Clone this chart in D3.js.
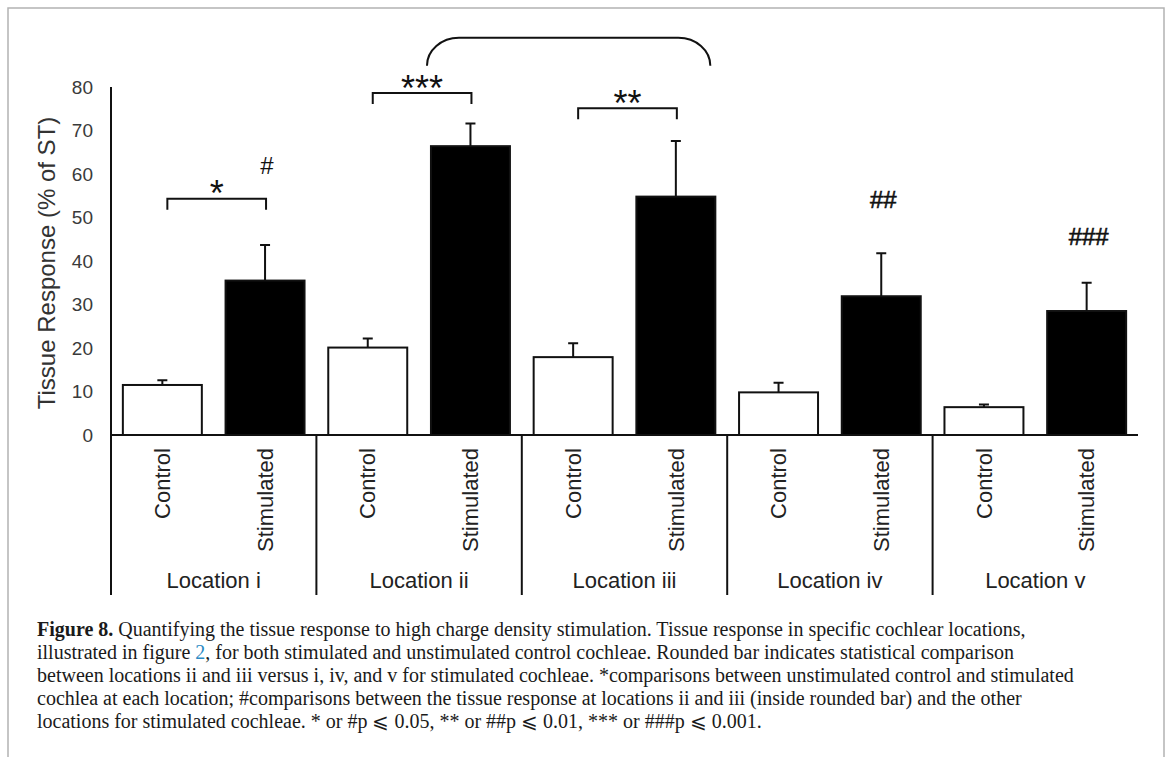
<!DOCTYPE html>
<html>
<head>
<meta charset="utf-8">
<script src="https://cdn.jsdelivr.net/npm/d3@7"></script>
<style>
  html, body { margin: 0; padding: 0; background: #fff; }
  svg { display: block; }
</style>
</head>
<body>
<svg id="fig" width="1169" height="757"></svg>
<script>
// Tissue response (% of ST) per cochlear location
const locations = ["Location i", "Location ii", "Location iii", "Location iv", "Location v"];
const conditions = ["Control", "Stimulated"];
const controlMean = [11.5, 20.1, 17.9, 9.8, 6.4];
const controlErr  = [1.1, 2.1, 3.2, 2.2, 0.6];
const stimMean    = [35.5, 66.4, 54.8, 31.9, 28.5];
const stimErr     = [8.2, 5.2, 12.8, 9.9, 6.5];
const yTicks = [0, 10, 20, 30, 40, 50, 60, 70, 80];

// Control vs stimulated significance at each location
const pairLabels = ["*", "***", "**", "", ""];
const pairLevels = [54.3, 78.6, 75.1, null, null];
// Locations ii/iii vs the others (stimulated)
const hashLabels = ["#", "", "", "##", "###"];
const hashLevels = [60.1, null, null, 52.2, 43.7];
const roundedSpan = ["Location ii", "Location iii"];
const roundedLevel = 91.3;

const captionLines = [
  [{t: "Figure 8.", b: true}, {t: " Quantifying the tissue response to high charge density stimulation. Tissue response in specific cochlear locations,"}],
  [{t: "illustrated in figure "}, {t: "2", link: true}, {t: ", for both stimulated and unstimulated control cochleae. Rounded bar indicates statistical comparison"}],
  [{t: "between locations ii and iii versus i, iv, and v for stimulated cochleae. *comparisons between unstimulated control and stimulated"}],
  [{t: "cochlea at each location; #comparisons between the tissue response at locations ii and iii (inside rounded bar) and the other"}],
  [{t: "locations for stimulated cochleae. * or #p \u2A7D 0.05, ** or ##p \u2A7D 0.01, *** or ###p \u2A7D 0.001."}]
];

const svg = d3.select("#fig");
const ink = "#111";
const sans = "Liberation Sans, Arial, sans-serif";

// page frame
svg.append("path")
  .attr("d", "M8,757 V8 H1164 V757")
  .attr("fill", "none").attr("stroke", "#b3b3b3").attr("stroke-width", 1.5);

const plot = {left: 111, right: 1138, top: 87, base: 435, labelBottom: 595};

const y = d3.scaleLinear().domain([0, 80]).range([plot.base, plot.top]);
const xGroup = d3.scaleBand().domain(locations).range([plot.left, plot.right]);
const xCond = d3.scaleBand().domain(conditions).range([0, xGroup.bandwidth()])
  .paddingInner(0.231).paddingOuter(0.1155);

const rows = locations.map((loc, i) => [
  {loc, cond: "Control", mean: controlMean[i], err: controlErr[i], fill: "#fff"},
  {loc, cond: "Stimulated", mean: stimMean[i], err: stimErr[i], fill: "#000"}
]).flat();
const cx = d => xGroup(d.loc) + xCond(d.cond) + xCond.bandwidth() / 2;

// y axis with labels only
const yAxis = d3.axisLeft(y).tickValues(yTicks).tickSize(0).tickPadding(18);
const gy = svg.append("g").attr("transform", `translate(${plot.left},0)`).call(yAxis);
gy.select(".domain").remove();
gy.selectAll("text").attr("font-family", sans).attr("font-size", 19).attr("fill", "#3a3a3a");

svg.append("text")
  .attr("transform", `translate(55,${(y(0) + y(80)) / 2 + 2}) rotate(-90)`)
  .attr("text-anchor", "middle")
  .attr("font-family", sans).attr("font-size", 24).attr("fill", "#333")
  .text("Tissue Response (% of ST)");

// error bars
const capW = 10;
const eb = svg.append("g").attr("stroke", ink).attr("stroke-width", 2).attr("fill", "none");
eb.selectAll("path").data(rows).join("path")
  .attr("d", d => `M${cx(d)},${y(d.mean)} V${y(d.mean + d.err)} M${cx(d) - capW / 2},${y(d.mean + d.err)} H${cx(d) + capW / 2}`);

// bars
svg.append("g").selectAll("rect").data(rows).join("rect")
  .attr("x", d => xGroup(d.loc) + xCond(d.cond))
  .attr("y", d => y(d.mean))
  .attr("width", xCond.bandwidth())
  .attr("height", d => y(0) - y(d.mean))
  .attr("fill", d => d.fill)
  .attr("stroke", ink).attr("stroke-width", 2);

// axis lines and group separators
const axes = svg.append("g").attr("stroke", ink).attr("stroke-width", 2).attr("fill", "none");
axes.append("line").attr("x1", plot.left).attr("x2", plot.right).attr("y1", y(0)).attr("y2", y(0));
axes.append("line").attr("x1", plot.left).attr("x2", plot.left).attr("y1", y(80)).attr("y2", plot.labelBottom);
axes.selectAll("line.sep").data(locations.slice(1)).join("line").attr("class", "sep")
  .attr("x1", d => xGroup(d)).attr("x2", d => xGroup(d))
  .attr("y1", y(0)).attr("y2", plot.labelBottom);

// condition labels
svg.append("g").selectAll("text").data(rows).join("text")
  .attr("transform", d => `translate(${cx(d)},448) rotate(-90)`)
  .attr("dy", "0.35em")
  .attr("text-anchor", "end")
  .attr("font-family", sans).attr("font-size", 22).attr("fill", "#222")
  .text(d => d.cond);

// location labels
svg.append("g").selectAll("text").data(locations).join("text")
  .attr("x", d => xGroup(d) + xGroup.bandwidth() / 2)
  .attr("y", 588)
  .attr("text-anchor", "middle")
  .attr("font-family", sans).attr("font-size", 22).attr("fill", "#222")
  .text(d => d);

// control vs stimulated brackets
const pairs = locations.map((loc, i) => ({loc, label: pairLabels[i], level: pairLevels[i]}))
  .filter(d => d.label);
const legLen = 11;
const gp = svg.append("g");
pairs.forEach(d => {
  const x0 = cx({loc: d.loc, cond: "Control"}) + 5;
  const x1 = cx({loc: d.loc, cond: "Stimulated"}) + 1;
  const yl = y(d.level);
  gp.append("path")
    .attr("d", `M${x0},${yl + legLen} V${yl} H${x1} V${yl + legLen}`)
    .attr("fill", "none").attr("stroke", ink).attr("stroke-width", 2);
  gp.append("text")
    .attr("x", (x0 + x1) / 2).attr("y", yl - 13 + 0.57 * 36)
    .attr("text-anchor", "middle")
    .attr("font-family", sans).attr("font-size", 36).attr("fill", ink)
    .text(d.label);
});

// hash markers over stimulated bars
svg.append("g").selectAll("text")
  .data(locations.map((loc, i) => ({loc, label: hashLabels[i], level: hashLevels[i]})).filter(d => d.label))
  .join("text")
  .attr("x", d => cx({loc: d.loc, cond: "Stimulated"}) + 2)
  .attr("y", d => y(d.level))
  .attr("text-anchor", "middle")
  .attr("font-family", sans).attr("font-size", 24).attr("fill", ink)
  .attr("stroke", ink).attr("stroke-width", d => d.label.length > 1 ? 0.6 : 0)
  .text(d => d.label);

// rounded bar spanning locations ii and iii
{
  const x0 = xGroup(roundedSpan[0]) + xCond("Stimulated") - 4;
  const x1 = xGroup(roundedSpan[1]) + xCond("Stimulated") + xCond.bandwidth() - 5;
  const yt = y(roundedLevel);
  const yb = yt + 28;
  const rx = 32, k = 0.5523;
  const p = d3.path();
  p.moveTo(x0, yb);
  p.bezierCurveTo(x0, yb - 28 * k, x0 + rx - rx * k, yt, x0 + rx, yt);
  p.lineTo(x1 - rx, yt);
  p.bezierCurveTo(x1 - rx + rx * k, yt, x1, yb - 28 * k, x1, yb);
  svg.append("path").attr("d", p.toString())
    .attr("fill", "none").attr("stroke", ink).attr("stroke-width", 2);
}

// caption
const cap = svg.append("g").attr("font-family", "Liberation Serif, 'Times New Roman', serif")
  .attr("font-size", 20).attr("fill", "#1a1a1a");
captionLines.forEach((line, i) => {
  const t = cap.append("text").attr("x", 37).attr("y", 636 + i * 22.9);
  line.forEach(seg => {
    const s = t.append("tspan").text(seg.t);
    if (seg.b) s.attr("font-weight", "bold");
    if (seg.link) s.attr("fill", "#2b8ac4");
  });
});
</script>
</body>
</html>
